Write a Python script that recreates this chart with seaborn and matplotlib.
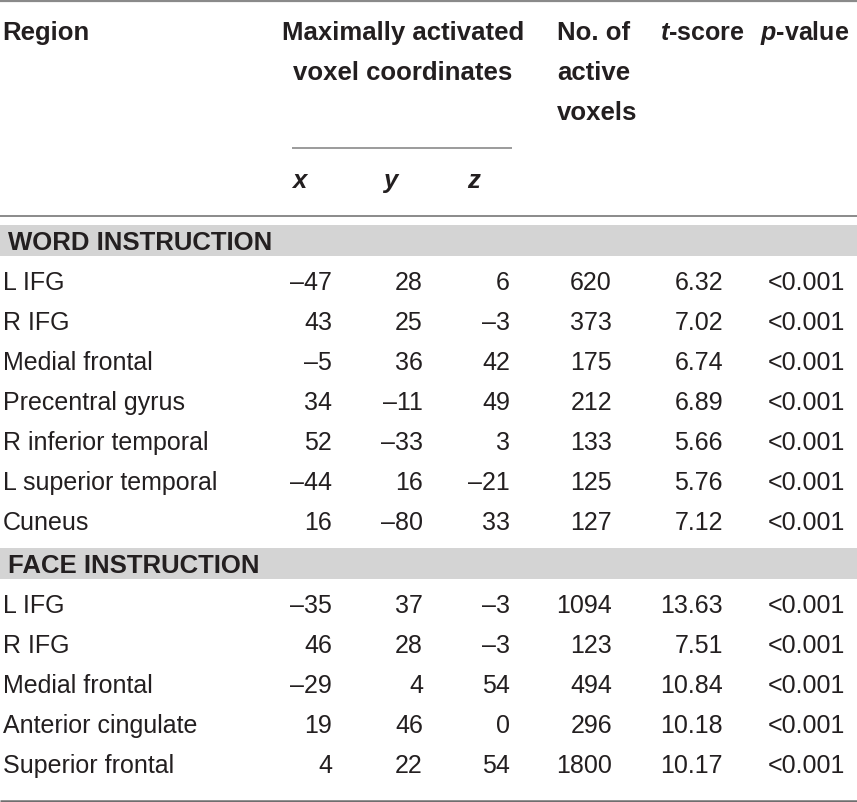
import matplotlib
matplotlib.use("Agg")
import matplotlib.pyplot as plt
import seaborn as sns

sns.set_theme(style="white")
plt.rcParams['font.family'] = ['Liberation Sans', 'DejaVu Sans']
plt.rcParams['mathtext.fontset'] = 'custom'
plt.rcParams['mathtext.bfit'] = 'Liberation Sans:italic:bold'
plt.rcParams['mathtext.bf'] = 'Liberation Sans:bold'
plt.rcParams['mathtext.rm'] = 'Liberation Sans'

# table data
word_regions = ['L IFG', 'R IFG', 'Medial frontal', 'Precentral gyrus',
                'R inferior temporal', 'L superior temporal', 'Cuneus']
word_x = [-47, 43, -5, 34, 52, -44, 16]
word_y = [28, 25, 36, -11, -33, 16, -80]
word_z = [6, -3, 42, 49, 3, -21, 33]
word_n = [620, 373, 175, 212, 133, 125, 127]
word_t = [6.32, 7.02, 6.74, 6.89, 5.66, 5.76, 7.12]
word_p = ['<0.001'] * 7

face_regions = ['L IFG', 'R IFG', 'Medial frontal', 'Anterior cingulate', 'Superior frontal']
face_x = [-35, 46, -29, 19, 4]
face_y = [37, 28, 4, 46, 22]
face_z = [-3, -3, 54, 0, 54]
face_n = [1094, 123, 494, 296, 1800]
face_t = [13.63, 7.51, 10.84, 10.18, 10.17]
face_p = ['<0.001'] * 5

sections = [
    ('WORD INSTRUCTION', word_regions, word_x, word_y, word_z, word_n, word_t, word_p),
    ('FACE INSTRUCTION', face_regions, face_x, face_y, face_z, face_n, face_t, face_p),
]

W, H = 857, 803
fig = plt.figure(figsize=(W / 100, H / 100), dpi=100)
ax = fig.add_axes([0, 0, 1, 1])
ax.set_xlim(0, W)
ax.set_ylim(H, 0)
ax.axis('off')

fs = 18
fsh = 18.5
txt = '#231f20'
rule = '#8a8a8a'
band = '#d4d4d4'


def num(v):
    return str(v).replace('-', '\u2013')


# header
hb = dict(fontsize=fsh, fontweight='bold', color=txt, va='baseline')
ax.text(2, 40, 'Region', ha='left', **hb)
ax.text(403, 40, 'Maximally activated', ha='center', **hb)
ax.text(403, 80, 'voxel coordinates', ha='center', **hb)
ax.text(557, 40, 'No. of', ha='left', **hb)
ax.text(557, 80, 'active', ha='left', **hb)
ax.text(557, 120, 'voxels', ha='left', **hb)
ax.text(660, 40, r'$\mathbfit{t}$-score', ha='left', fontsize=18,
        fontweight='bold', color=txt, va='baseline')
ax.text(760, 40, r'$\mathbfit{p}$-value', ha='left', fontsize=18,
        fontweight='bold', color=txt, va='baseline')

for lab, xx in zip(['x', 'y', 'z'], [292, 383, 467]):
    ax.text(xx, 188, lab, ha='left', style='italic', **hb)

ax.plot([0, W], [1.5, 1.5], color=rule, lw=1.6, solid_capstyle='butt')
ax.plot([292, 512], [149, 149], color=rule, lw=1.2, solid_capstyle='butt')
ax.plot([0, W], [217, 217], color=rule, lw=1.4, solid_capstyle='butt')
ax.plot([0, W], [801.5, 801.5], color='#6f6f6f', lw=1.8, solid_capstyle='butt')

col_right = [332, 423, 510, 612, 723, 845]
band_top = [226, 549]
step = 40

for (title, regs, xs, ys, zs, ns, ts, ps), top in zip(sections, band_top):
    ax.axhspan(top, top + 31, color=band, lw=0, zorder=0)
    ax.text(8, top + 24, title, ha='left', va='baseline', fontsize=fsh,
            fontweight='bold', color=txt)
    base = top + 64.5
    for i, reg in enumerate(regs):
        yb = base + i * step
        ax.text(3, yb, reg, ha='left', va='baseline', fontsize=fs, color=txt)
        vals = [num(xs[i]), num(ys[i]), num(zs[i]), str(ns[i]),
                '%.2f' % ts[i], ps[i]]
        for v, xr in zip(vals, col_right):
            ax.text(xr, yb, v, ha='right', va='baseline', fontsize=fs, color=txt)

fig.savefig('out.png', dpi=100, facecolor='white')
